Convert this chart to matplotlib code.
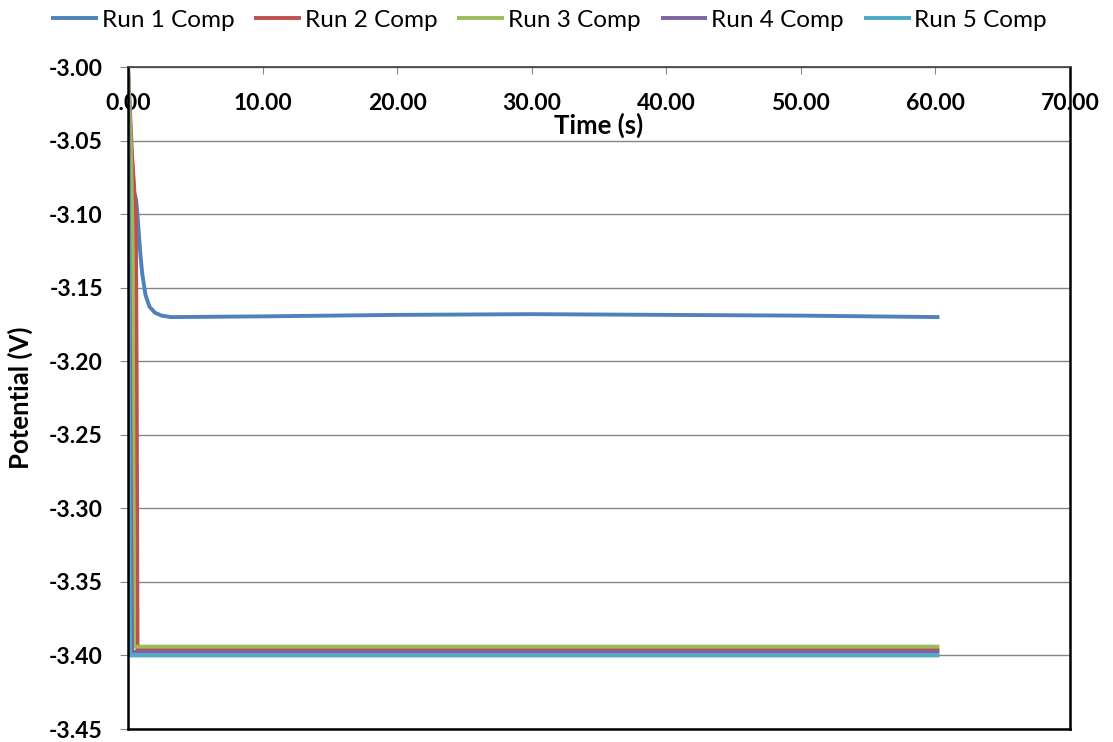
import matplotlib
matplotlib.use('agg')
import matplotlib.pyplot as plt
from matplotlib.ticker import MultipleLocator, FormatStrFormatter

plt.rcParams['font.family'] = ['Lato', 'DejaVu Sans']

# time (s) and potential (V) for each run
run1_t = [0, 0.2, 0.45, 0.6, 0.7, 0.9, 1.05, 1.3, 1.6, 2.0, 2.5, 3.2, 10, 20, 30, 40, 50, 60.3]
run1_v = [-3.000, -3.050, -3.085, -3.090, -3.100, -3.125, -3.140, -3.155, -3.163, -3.167,
          -3.169, -3.170, -3.1695, -3.1685, -3.168, -3.1685, -3.169, -3.170]
run2_t = [0, 0.3, 0.5, 0.58, 0.64, 0.71, 60.3]
run2_v = [-3.000, -3.060, -3.088, -3.100, -3.200, -3.396, -3.396]
run3_t = [0, 0.2, 0.35, 0.45, 60.3]
run3_v = [-3.000, -3.050, -3.120, -3.394, -3.394]
run4_t = [0, 0.3, 60.3]
run4_v = [-3.000, -3.3975, -3.3975]
run5_t = [0, 0.15, 60.3]
run5_v = [-3.000, -3.400, -3.400]

labels = ['Run 1 Comp', 'Run 2 Comp', 'Run 3 Comp', 'Run 4 Comp', 'Run 5 Comp']
colors = ['#4F81BD', '#C0504D', '#9BBB59', '#8064A2', '#4BACC6']

fig = plt.figure(figsize=(11.13, 7.42), dpi=100)
ax = fig.add_axes([0.115, 0.0175, 0.8463, 0.8922])

series = [(run1_t, run1_v), (run2_t, run2_v), (run3_t, run3_v), (run4_t, run4_v), (run5_t, run5_v)]
for (t, v), lab, c in zip(series, labels, colors):
    ax.plot(t, v, color=c, lw=2.8, label=lab, solid_joinstyle='round', solid_capstyle='butt')

ax.set_xlim(0, 70)
ax.set_ylim(-3.45, -3.00)
ax.xaxis.set_major_locator(MultipleLocator(10))
ax.yaxis.set_major_locator(MultipleLocator(0.05))
ax.xaxis.set_major_formatter(FormatStrFormatter('%.2f'))
ax.yaxis.set_major_formatter(FormatStrFormatter('%.2f'))

ax.grid(axis='y', color='#868686', lw=1)
ax.set_axisbelow(True)

for s in ax.spines.values():
    s.set_color('black')
    s.set_linewidth(1.8)
ax.spines['top'].set_color('#404040')
ax.spines['top'].set_linewidth(1.2)

ax.tick_params(axis='x', top=True, bottom=False, labeltop=True, labelbottom=False,
               direction='in', length=5, color='#868686', pad=-34)
ax.tick_params(axis='y', direction='out', length=6, color='#868686', pad=12)
for lbl in ax.get_xticklabels() + ax.get_yticklabels():
    lbl.set_fontsize(16.5)
    lbl.set_fontweight('bold')

ax.xaxis.set_label_position('top')
ax.set_xlabel('Time (s)', fontsize=18.5, fontweight='bold', va='center')
ax.xaxis.set_label_coords(0.5, 0.912)
ax.set_ylabel('Potential (V)', fontsize=18.5, fontweight='bold', va='center')
ax.yaxis.set_label_coords(-0.114, 0.5)

fig.legend(loc='center', bbox_to_anchor=(0.4933, 0.973), ncol=5, frameon=False,
           fontsize=17.5, handlelength=1.93, handletextpad=0.15, columnspacing=0.82)

fig.savefig('out.png', dpi=100)
